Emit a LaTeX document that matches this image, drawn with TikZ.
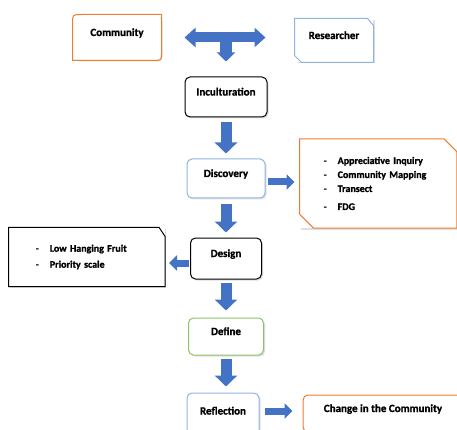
\documentclass[tikz,border=0pt]{standalone}
\usepackage{fontspec}
\setmainfont{Carlito}[BoldFeatures={FakeBold=1.2}]
\usetikzlibrary{arrows.meta}
\usetikzlibrary{positioning}
\usetikzlibrary{shadows}

\definecolor{orgline}{HTML}{ED7D31}
\definecolor{bluline}{HTML}{8FB4E3}
\definecolor{grnline}{HTML}{8CC36A}
\definecolor{arrblue}{HTML}{4472C4}

\newcommand{\itm}[1]{\makebox[14pt][l]{-}#1}

\tikzset{
  bare/.style={fill=white, inner sep=0pt,
    drop shadow={shadow xshift=1.5pt, shadow yshift=-1.5pt, opacity=0.25}},
  box/.style={bare, draw, line width=1pt, rounded corners=5pt, text height=8pt, text depth=11pt,
    font=\fontsize{11}{13}\selectfont\bfseries},
  listbox/.style={bare, align=left, font=\fontsize{10}{14}\selectfont\bfseries},
  outline/.style={line width=1pt},
  fatdown/.style={draw=arrblue, line width=11pt, -{Triangle[width=22pt,length=11pt]}},
  fatside/.style={draw=arrblue, line width=7pt, -{Triangle[width=15pt,length=8pt]}},
}

\begin{document}
\begin{tikzpicture}[x=1pt, y=-1pt]
\useasboundingbox (0,0) rectangle (457,430);

\node[box, draw=none, minimum width=88pt, minimum height=45pt] (comm) at (117,37.5) {Community};
\node[box, draw=none, rounded corners=0pt, minimum width=78pt, minimum height=43pt] (res) at (334,40.5) {Researcher};

\node[box, minimum width=82pt, minimum height=40pt] (incult) at (226,97) {Inculturation};
\node[box, draw=bluline, minimum width=78pt, minimum height=39pt, below=41pt of incult] (disc) {Discovery};
\node[box, minimum width=71pt, minimum height=41pt, below=39pt of disc] (design) {Design};
\node[box, draw=grnline, minimum width=75pt, minimum height=37pt, below=38pt of design] (define) {Define};
\node[box, draw=bluline, minimum width=72pt, minimum height=46pt, below=37pt of define, xshift=-3pt] (reflect) {Reflection};

\node[listbox, text width=109pt, inner xsep=24pt, minimum width=157pt, minimum height=89pt,
  right=34pt of disc, yshift=-5pt] (methods)
  {\itm{Appreciative Inquiry}\\ \itm{Community Mapping}\\ \itm{Transect}\\[4pt] \itm{FDG}};
\node[listbox, text width=102pt, inner xsep=27pt, minimum width=156pt, minimum height=59pt,
  left=25pt of design, yshift=1.5pt] (fruit)
  {\itm{Low Hanging Fruit}\\[2pt] \itm{Priority scale}};
\node[box, draw=orgline, minimum width=160pt, minimum height=37pt, right=43pt of reflect, yshift=2.5pt] (change) {Change in the Community};

% outlines with cut or mixed corners
\draw[outline, orgline] ([xshift=9pt]comm.north west) -- (comm.north east) -- ([yshift=7pt]comm.south east)
  .. controls (comm.south east) .. ([xshift=-7pt]comm.south east) -- (comm.south west)
  -- ([yshift=-9pt]comm.north west) .. controls (comm.north west) .. ([xshift=9pt]comm.north west) -- cycle;
\draw[outline, bluline] (res.north west) -- ([xshift=-6pt]res.north east) -- ([yshift=-7pt]res.north east)
  -- (res.south east) -- ([xshift=7pt]res.south west) -- ([yshift=7pt]res.south west) -- cycle;
\draw[outline, orgline] (methods.north west) -- ([xshift=-13pt]methods.north east) -- ([yshift=-13pt]methods.north east)
  -- (methods.south east) -- ([xshift=14pt]methods.south west) -- ([yshift=14pt]methods.south west) -- cycle;
\draw[outline] (fruit.north west) -- ([xshift=-6pt]fruit.north east) -- ([yshift=-9pt]fruit.north east)
  -- (fruit.south east) -- (fruit.south west) -- cycle;

% community <-> researcher, down to inculturation
\draw[draw=arrblue, line width=10pt, {Triangle[width=19pt,length=11pt]}-{Triangle[width=19pt,length=11pt]}]
  ([xshift=23pt]comm.east) -- ([xshift=-29pt]comm.east -| res.west);
\coordinate (fork) at (comm.east -| incult.north);
\draw[draw=arrblue, line width=12pt, -{Triangle[width=18pt,length=9pt]}, shorten >=15pt] (fork) -- (incult.north);

\draw[fatdown, shorten <=5pt, shorten >=5pt] (incult.south) -- (disc.north);
\draw[fatdown, shorten <=6pt, shorten >=5pt] (disc.south) -- (disc.south |- design.north);
\draw[fatdown, shorten <=3pt, shorten >=7pt] (design.south) -- (design.south |- define.north);
\draw[fatdown, shorten <=3pt, shorten >=6pt] (define.south) -- (define.south |- reflect.north);

\draw[fatside, shorten <=2pt, shorten >=5pt] ([yshift=-3.5pt]disc.east) -- ([yshift=-3.5pt]disc.east -| methods.west);
\draw[fatside, shorten <=1pt, shorten >=4pt] ([yshift=-4.5pt]design.west) -- ([yshift=-4.5pt]design.west -| fruit.east);
\draw[fatside, shorten <=5pt, shorten >=10pt] ([yshift=5pt]reflect.east) -- ([yshift=5pt]reflect.east -| change.west);

\end{tikzpicture}
\end{document}
